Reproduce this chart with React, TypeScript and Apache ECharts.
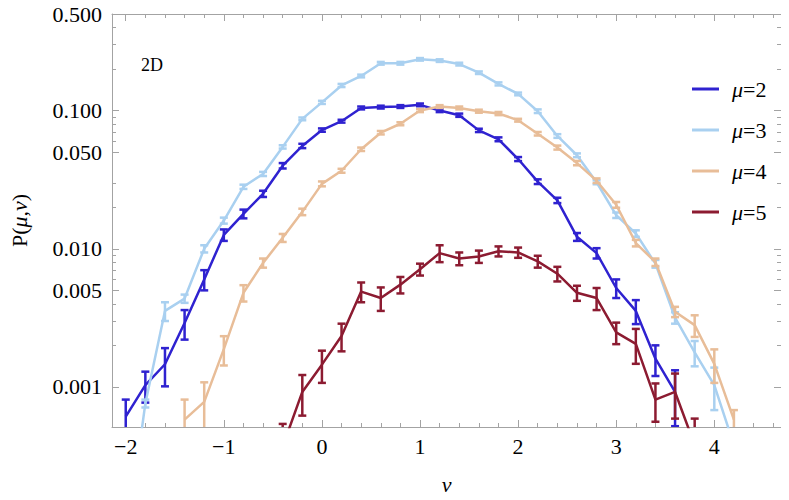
import React, { useEffect, useRef } from "react";
import * as echarts from "echarts";

// nu grid (x values)
const NU = [-2.0, -1.8, -1.6, -1.4, -1.2, -1.0, -0.8, -0.6, -0.4, -0.2, 0.0, 0.2, 0.4, 0.6, 0.8, 1.0,
  1.2, 1.4, 1.6, 1.8, 2.0, 2.2, 2.4, 2.6, 2.8, 3.0, 3.2, 3.4, 3.6, 3.8, 4.0, 4.2];

const SERIES_NAMES = ["μ=2", "μ=3", "μ=4", "μ=5"];
const COLORS = ["#2f22d0", "#a9d0f0", "#e8bd98", "#8c1b31"];

// P(mu=2, nu)
const P2 = [0.00061, 0.00103, 0.00146, 0.0029, 0.006, 0.0126, 0.0179, 0.025, 0.0399, 0.0555, 0.0723, 0.0838,
  0.1045, 0.106, 0.107, 0.11, 0.1, 0.0926, 0.0719, 0.062, 0.0446, 0.0306, 0.0224, 0.0122, 0.0093, 0.0052,
  0.00355, 0.0016, 0.00092, null, null, null];
const E2 = [0.0002, 0.00026, 0.00045, 0.0007, 0.001, 0.0012, 0.0013, 0.0013, 0.0018, 0.002, 0.002, 0.002,
  0.0025, 0.0025, 0.0025, 0.0025, 0.0025, 0.0025, 0.002, 0.002, 0.0015, 0.0012, 0.001, 0.0008, 0.0008, 0.0008,
  0.0007, 0.0004, 0.0004, null, null, null];

// P(mu=3, nu)
const P3 = [0.00007, 0.00076, 0.00355, 0.00436, 0.01, 0.016, 0.0281, 0.0348, 0.0546, 0.0871, 0.1147, 0.152,
  0.178, 0.22, 0.22, 0.235, 0.23, 0.217, 0.188, 0.156, 0.132, 0.099, 0.0655, 0.0475, 0.0303, 0.0175,
  0.0129, 0.0078, 0.00317, 0.00178, 0.00103, 0.00038];
const E3 = [0.00002, 0.00005, 0.00055, 0.0003, 0.0006, 0.0008, 0.001, 0.0012, 0.0015, 0.002, 0.003, 0.004,
  0.004, 0.005, 0.005, 0.005, 0.005, 0.005, 0.004, 0.004, 0.003, 0.003, 0.002, 0.0015, 0.001, 0.0008,
  0.0007, 0.0005, 0.0003, 0.00037, 0.00035, 0.0001];

// P(mu=4, nu)
const P4 = [null, null, null, 0.00058, 0.00078, 0.00188, 0.0048, 0.0079, 0.012, 0.0185, 0.0295, 0.0367,
  0.0525, 0.0692, 0.0803, 0.1, 0.107, 0.1045, 0.099, 0.0952, 0.0852, 0.068, 0.054, 0.0417, 0.0311, 0.0208,
  0.011, 0.008, 0.0035, 0.0028, 0.00147, 0.00058];
const E4 = [null, null, null, 0.00023, 0.0003, 0.00045, 0.00065, 0.0006, 0.0008, 0.001, 0.0012, 0.0012,
  0.0015, 0.002, 0.002, 0.0025, 0.0025, 0.0025, 0.0025, 0.0025, 0.002, 0.002, 0.0018, 0.0015, 0.0012, 0.001,
  0.0006, 0.0005, 0.0003, 0.0005, 0.0004, 0.0001];

// P(mu=5, nu)
const P5 = [null, null, null, null, null, null, null, null, 0.00037, 0.00092, 0.00145, 0.00234,
  0.0049, 0.0044, 0.0055, 0.0071, 0.0093, 0.0085, 0.0088, 0.0096, 0.0094, 0.0081, 0.0066, 0.0048, 0.0044, 0.00248,
  0.00205, 0.00081, 0.00092, 0.00038, null, null];
const E5 = [null, null, null, null, null, null, null, null, 0.00017, 0.0003, 0.00038, 0.00053,
  0.0008, 0.00085, 0.00075, 0.0007, 0.0013, 0.0009, 0.0009, 0.0008, 0.0008, 0.0008, 0.0008, 0.0006, 0.0008, 0.00044,
  0.00058, 0.00025, 0.00033, 0.00021, null, null];

const VALUES = [P2, P3, P4, P5];
const ERRORS = [E2, E3, E4, E5];

// axis ticks
const X_MAJOR = [-2, -1, 0, 1, 2, 3, 4];
const X_MINOR = [-1.8, -1.6, -1.4, -1.2, -0.8, -0.6, -0.4, -0.2, 0.2, 0.4, 0.6, 0.8, 1.2, 1.4, 1.6, 1.8,
  2.2, 2.4, 2.6, 2.8, 3.2, 3.4, 3.6, 3.8, 4.2, 4.4, 4.6];
const Y_MAJOR = [0.001, 0.005, 0.01, 0.05, 0.1, 0.5];
const Y_MINOR = [0.002, 0.003, 0.004, 0.006, 0.007, 0.008, 0.009, 0.02, 0.03, 0.06, 0.07, 0.08, 0.09,
  0.2, 0.3, 0.4];

const X_MIN = -2.14;
const X_MAX = 4.68;
const Y_MIN = 0.000513;
const Y_MAX = 0.5;

const FONT = "'Liberation Serif', serif";
const FRAME = "#a3a3a3";
const FS = 22;

const lg = (v: number) => Math.log10(v);

export default function App() {
  const ref = useRef<HTMLDivElement>(null);

  useEffect(() => {
    if (!ref.current) return;
    const chart = echarts.init(ref.current, null, { renderer: "svg" });

    const xAx = (position: string, ticks: number[], len: number, labels: boolean, line: boolean) => ({
      type: "value",
      position,
      min: X_MIN,
      max: X_MAX,
      axisLine: { show: line, onZero: false, lineStyle: { color: FRAME, width: 1 } },
      axisTick: { show: true, inside: true, length: len, customValues: ticks, lineStyle: { color: FRAME, width: 1 } },
      axisLabel: labels
        ? {
            show: true,
            customValues: ticks,
            margin: 8,
            color: "#000",
            fontFamily: FONT,
            fontSize: FS,
            formatter: (v: number) => (v < 0 ? "\u2212" + String(-v) : String(v)),
          }
        : { show: false },
      splitLine: { show: false },
    });

    const yAx = (position: string, ticks: number[], len: number, labels: boolean, line: boolean) => ({
      type: "value",
      position,
      min: lg(Y_MIN),
      max: lg(Y_MAX),
      axisLine: { show: line, onZero: false, lineStyle: { color: FRAME, width: 1 } },
      axisTick: { show: true, inside: true, length: len, customValues: ticks.map(lg), lineStyle: { color: FRAME, width: 1 } },
      axisLabel: labels
        ? {
            show: true,
            customValues: ticks.map(lg),
            margin: 10,
            color: "#000",
            fontFamily: FONT,
            fontSize: FS,
            formatter: (v: number) => Math.pow(10, v).toFixed(3),
          }
        : { show: false },
      splitLine: { show: false },
    });

    const xAxes: any[] = [
      xAx("bottom", X_MAJOR, 7, true, true),
      xAx("bottom", X_MINOR, 4, false, false),
      xAx("top", X_MAJOR, 7, false, true),
      xAx("top", X_MINOR, 4, false, false),
    ];
    xAxes[0].name = "ν";
    xAxes[0].nameLocation = "middle";
    xAxes[0].nameGap = 46;
    xAxes[0].nameTextStyle = { fontFamily: FONT, fontStyle: "italic", fontSize: FS, color: "#000" };

    const yAxes: any[] = [
      yAx("left", Y_MAJOR, 7, true, true),
      yAx("left", Y_MINOR, 4, false, false),
      yAx("right", Y_MAJOR, 7, false, true),
      yAx("right", Y_MINOR, 4, false, false),
    ];
    yAxes[0].name = "{n|P(}{i|μ}{n|,}{i|ν}{n|)}";
    yAxes[0].nameLocation = "middle";
    yAxes[0].nameGap = 82;
    yAxes[0].nameRotate = 90;
    yAxes[0].nameTextStyle = {
      color: "#000",
      rich: {
        n: { fontFamily: FONT, fontSize: FS, color: "#000" },
        i: { fontFamily: FONT, fontSize: FS, fontStyle: "italic", color: "#000" },
      },
    };

    const series: any[] = [];
    SERIES_NAMES.forEach((name, s) => {
      const vals = VALUES[s];
      const errs = ERRORS[s];
      const lineData: number[][] = [];
      const barData: number[][] = [];
      NU.forEach((x, i) => {
        const v = vals[i];
        const e = errs[i];
        if (v == null) return;
        lineData.push([x, lg(v)]);
        const lo = Math.max(v - (e || 0), 1e-6);
        const hi = v + (e || 0);
        barData.push([x, lg(lo), lg(hi)]);
      });
      const color = COLORS[s];
      series.push({
        name,
        type: "line",
        data: lineData,
        showSymbol: false,
        symbol: "none",
        clip: true,
        color,
        itemStyle: { color },
        lineStyle: { color, width: 2.5 },
        z: 2 + s,
      });
      series.push({
        name,
        type: "custom",
        data: barData,
        clip: true,
        color,
        encode: { x: 0, y: [1, 2] },
        z: 2 + s,
        renderItem: (params: any, api: any) => {
          const x = api.value(0);
          const top = api.coord([x, api.value(2)]);
          const bot = api.coord([x, api.value(1)]);
          const w = 4;
          const st = { stroke: color, lineWidth: 2.5 };
          return {
            type: "group",
            children: [
              { type: "line", shape: { x1: top[0], y1: top[1], x2: bot[0], y2: bot[1] }, style: st },
              { type: "line", shape: { x1: top[0] - w, y1: top[1], x2: top[0] + w, y2: top[1] }, style: st },
              { type: "line", shape: { x1: bot[0] - w, y1: bot[1], x2: bot[0] + w, y2: bot[1] }, style: st },
            ],
          };
        },
      });
    });

    chart.setOption({
      animation: false,
      backgroundColor: "#fff",
      grid: { left: 110, right: 8, top: 14, bottom: 70 },
      xAxis: xAxes,
      yAxis: yAxes,
      legend: {
        orient: "vertical",
        left: 687,
        top: 73,
        itemWidth: 27,
        itemHeight: 3,
        itemGap: 19,
        icon: "rect",
        selectedMode: false,
        data: SERIES_NAMES.map((n, i) => ({ name: n, icon: "rect", itemStyle: { color: COLORS[i] } })),
        formatter: (name: string) => "{i|μ}{n|" + name.slice(1) + "}",
        textStyle: {
          color: "#000",
          padding: [0, 0, 0, 8],
          rich: {
            i: { fontFamily: FONT, fontSize: FS, fontStyle: "italic", color: "#000", lineHeight: 20 },
            n: { fontFamily: FONT, fontSize: FS, color: "#000", lineHeight: 20 },
          },
        },
      },
      graphic: [
        {
          type: "text",
          left: 141,
          top: 56,
          style: { text: "2D", font: "18px 'Liberation Serif', serif", fill: "#000" },
        },
      ],
      series,
    });

    return () => chart.dispose();
  }, []);

  return <div ref={ref} style={{ width: 789, height: 500, margin: -8 }} />;
}
